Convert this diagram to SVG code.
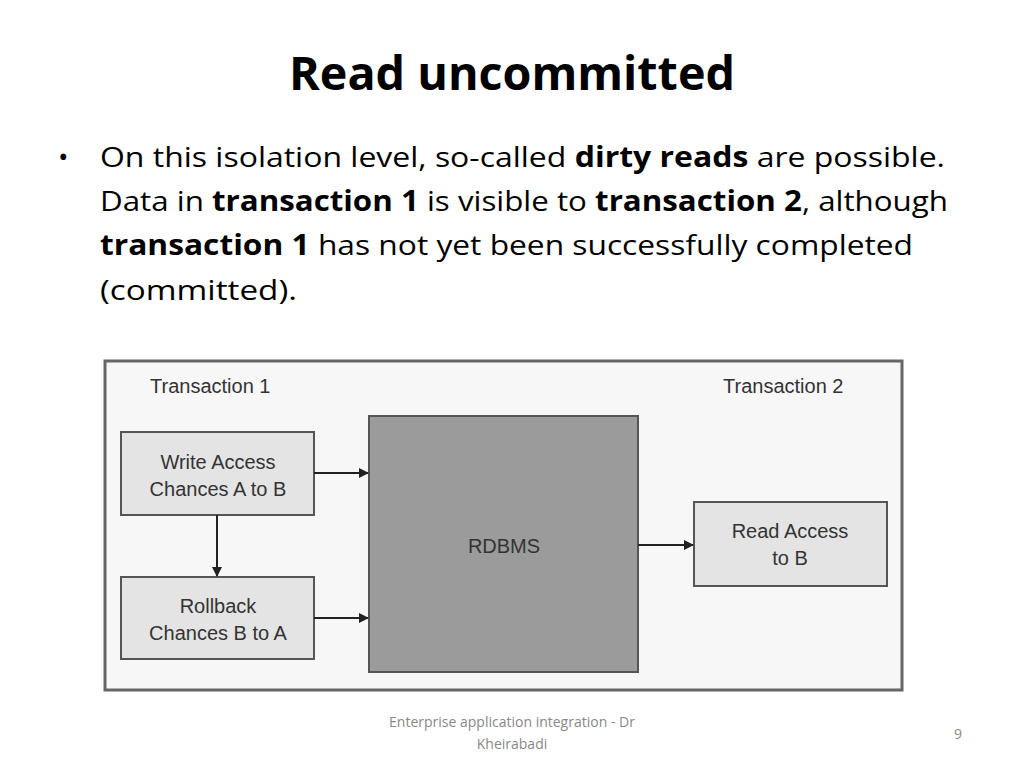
<svg xmlns="http://www.w3.org/2000/svg" width="1024" height="768" viewBox="0 0 1024 768">
<style>
.t{font-family:"Open Sans",Lato,sans-serif;fill:#000}
.d{font-family:"Liberation Sans",Arial,sans-serif;font-size:20px;fill:#333}
.box{fill:#e4e4e4;stroke:#555;stroke-width:2}
.c{stroke:#222;stroke-width:2;fill:none;marker-end:url(#a)}
</style>
<defs><marker id="a" markerWidth="10" markerHeight="10" refX="9" refY="5" orient="auto" markerUnits="userSpaceOnUse"><path d="M0,0 L10,5 L0,10 Z" fill="#222"/></marker></defs>
<rect width="1024" height="768" fill="#fff"/>
<text class="t" x="289" y="90" font-size="46" font-weight="bold" textLength="446" lengthAdjust="spacingAndGlyphs">Read uncommitted</text>
<g class="t" font-size="28">
<text x="58" y="167">•</text>
<text x="100" y="167" textLength="845" lengthAdjust="spacingAndGlyphs">On this isolation level, so-called <tspan font-weight="bold">dirty reads</tspan> are possible.</text>
<text x="100" y="211" textLength="848" lengthAdjust="spacingAndGlyphs">Data in <tspan font-weight="bold">transaction 1</tspan> is visible to <tspan font-weight="bold">transaction 2</tspan>, although</text>
<text x="100" y="255" textLength="813" lengthAdjust="spacingAndGlyphs"><tspan font-weight="bold">transaction 1</tspan> has not yet been successfully completed</text>
<text x="100" y="300" textLength="197" lengthAdjust="spacingAndGlyphs">(committed).</text>
</g>
<rect x="105" y="361" width="797" height="329" fill="#f7f7f7" stroke="#666" stroke-width="3"/>
<text class="d" x="150" y="393">Transaction 1</text>
<text class="d" x="723" y="393">Transaction 2</text>
<g id="write"><rect class="box" x="121" y="432" width="193" height="83"/><text class="d" x="218" y="469" text-anchor="middle">Write Access</text><text class="d" x="218" y="496" text-anchor="middle">Chances A to B</text></g>
<g id="rollback"><rect class="box" x="121" y="577" width="193" height="82"/><text class="d" x="218" y="613" text-anchor="middle">Rollback</text><text class="d" x="218" y="640" text-anchor="middle">Chances B to A</text></g>
<g id="rdbms"><rect x="369" y="416" width="269" height="256" fill="#9b9b9b" stroke="#555" stroke-width="2"/><text class="d" x="504" y="553" text-anchor="middle" fill="#222">RDBMS</text></g>
<g id="read"><rect class="box" x="694" y="502" width="193" height="84"/><text class="d" x="790" y="538" text-anchor="middle">Read Access</text><text class="d" x="790" y="565" text-anchor="middle">to B</text></g>
<g id="connectors">
<line class="c" x1="314" y1="473" x2="368" y2="473"/>
<line class="c" x1="314" y1="618" x2="368" y2="618"/>
<line class="c" x1="638" y1="545" x2="693" y2="545"/>
<line class="c" x1="217" y1="515" x2="217" y2="576"/>
</g>
<g font-family="'Open Sans',Lato,sans-serif" font-size="14" fill="#888" text-anchor="middle">
<text x="512" y="727">Enterprise application integration - Dr</text>
<text x="512" y="749">Kheirabadi</text>
<text x="958" y="739">9</text>
</g>
</svg>
